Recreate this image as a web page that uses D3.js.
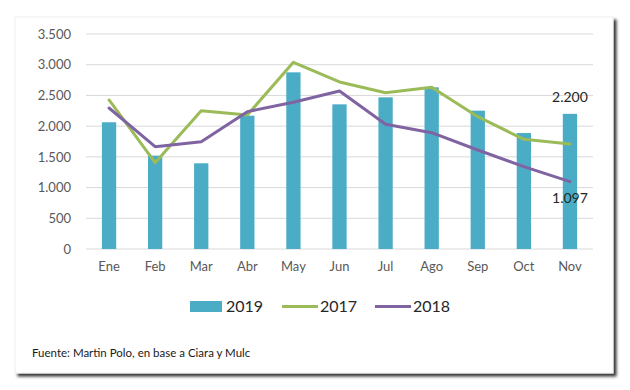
<!DOCTYPE html>
<html><head><meta charset="utf-8">
<script src="https://cdn.jsdelivr.net/npm/d3@7"></script>
<style>body{margin:0;background:#fff;} svg{display:block;}</style>
</head><body>
<script>
const months = ["Ene","Feb","Mar","Abr","May","Jun","Jul","Ago","Sep","Oct","Nov"];
const s2019 = [2063,1520,1395,2170,2876,2355,2469,2632,2252,1888,2200];
const s2017 = [2426,1405,2252,2181,3039,2719,2545,2632,2154,1785,1709];
const s2018 = [2295,1666,1747,2236,2388,2572,2030,1894,1612,1340,1097];
const yTicks = [0,500,1000,1500,2000,2500,3000,3500];
const tickLabels = ["0","500","1.000","1.500","2.000","2.500","3.000","3.500"];
const seriesNames = ["2019","2017","2018"];
const colors = {bar:"#4BACC6", g:"#9BBB59", p:"#8064A2"};
const font = "Lato, 'Open Sans', sans-serif";

const W=630,H=390;
const svg=d3.select("body").append("svg").attr("width",W).attr("height",H);
const defs=svg.append("defs");
const f=defs.append("filter").attr("id","sh").attr("x","-5%").attr("y","-5%").attr("width","115%").attr("height","115%");
f.append("feGaussianBlur").attr("in","SourceAlpha").attr("stdDeviation",1.5);
f.append("feOffset").attr("dx",3).attr("dy",3).attr("result","ob");
f.append("feComponentTransfer").append("feFuncA").attr("type","linear").attr("slope",0.8);
const fm=f.append("feMerge"); fm.append("feMergeNode"); fm.append("feMergeNode").attr("in","SourceGraphic");

svg.append("rect").attr("x",15).attr("y",17).attr("width",598).attr("height",356)
  .attr("fill","#fff").attr("stroke","#f0f0f0").attr("stroke-width",1).attr("filter","url(#sh)");

const x=d3.scaleBand().domain(months).range([86,593]).paddingInner(0.69).paddingOuter(0.345);
const y=d3.scaleLinear().domain([0,3500]).range([249,34]);

// grid
svg.append("g").selectAll("line").data(yTicks).join("line")
  .attr("x1",86).attr("x2",593).attr("y1",d=>y(d)).attr("y2",d=>y(d))
  .attr("stroke","#d9d9d9").attr("stroke-width",1);

// y labels
const ya=d3.axisLeft(y).tickValues(yTicks).tickFormat((d,i)=>tickLabels[i]).tickSize(0).tickPadding(15);
const yg=svg.append("g").attr("transform","translate(86,0)").call(ya);
yg.select(".domain").remove();
yg.selectAll("text").attr("font-family",font).attr("font-size",13).attr("fill","#595959");

// x labels
const xa=d3.axisBottom(x).tickSize(0).tickPadding(13);
const xg=svg.append("g").attr("transform","translate(0,249)").call(xa);
xg.select(".domain").remove();
xg.selectAll("text").attr("font-family",font).attr("font-size",13).attr("fill","#595959");

// bars
svg.append("g").selectAll("rect").data(s2019).join("rect")
  .attr("x",(d,i)=>x(months[i])).attr("width",x.bandwidth())
  .attr("y",d=>y(d)).attr("height",d=>y(0)-y(d)).attr("fill",colors.bar);

const line=d3.line().x((d,i)=>x(months[i])+x.bandwidth()/2).y(d=>y(d));
svg.append("path").datum(s2017).attr("d",line).attr("fill","none").attr("stroke",colors.g).attr("stroke-width",3).attr("stroke-linejoin","round").attr("stroke-linecap","round");
svg.append("path").datum(s2018).attr("d",line).attr("fill","none").attr("stroke",colors.p).attr("stroke-width",3).attr("stroke-linejoin","round").attr("stroke-linecap","round");

const fmt=v=>d3.format(",")(v).replace(/,/g,".");
const nx=x("Nov")+x.bandwidth()/2;
svg.append("text").attr("x",nx).attr("y",y(s2019[10])-12).attr("text-anchor","middle")
  .attr("font-family",font).attr("font-size",14).attr("fill","#262626").text(fmt(s2019[10]));
svg.append("text").attr("x",nx).attr("y",y(s2018[10])+21).attr("text-anchor","middle")
  .attr("font-family",font).attr("font-size",14).attr("fill","#262626").text(fmt(s2018[10]));

// legend
const lg=svg.append("g").attr("font-family",font).attr("font-size",16).attr("fill","#262626");
lg.append("rect").attr("x",190).attr("y",301).attr("width",32).attr("height",11).attr("fill",colors.bar);
lg.append("text").attr("x",226).attr("y",312).text(seriesNames[0]);
lg.append("line").attr("x1",282).attr("x2",318).attr("y1",306.5).attr("y2",306.5).attr("stroke",colors.g).attr("stroke-width",3);
lg.append("text").attr("x",320).attr("y",312).text(seriesNames[1]);
lg.append("line").attr("x1",375).attr("x2",411).attr("y1",306.5).attr("y2",306.5).attr("stroke",colors.p).attr("stroke-width",3);
lg.append("text").attr("x",413).attr("y",312).text(seriesNames[2]);

svg.append("text").attr("x",32).attr("y",357).attr("font-family",font).attr("font-size",11.5).attr("fill","#1a1a1a")
  .text("Fuente: Martin Polo, en base a Ciara y Mulc");
</script>
</body></html>
